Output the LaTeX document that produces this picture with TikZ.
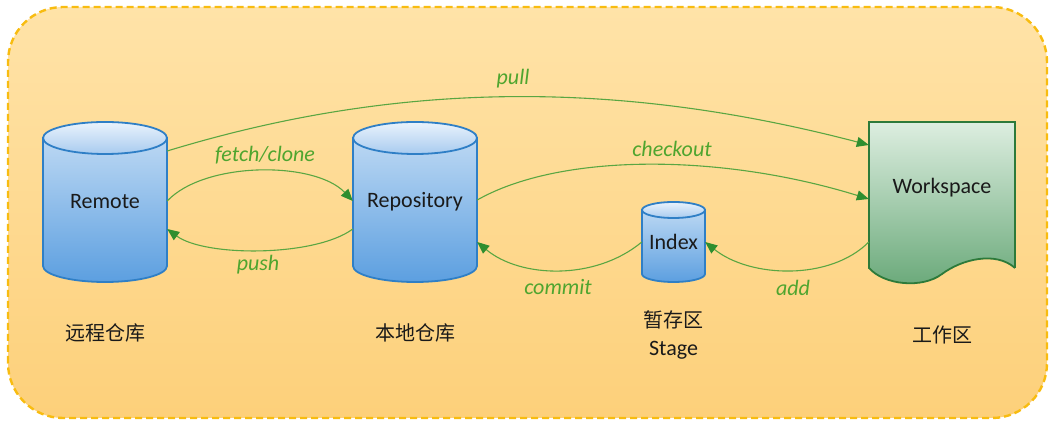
\documentclass[tikz,border=0pt]{standalone}
\usepackage{fontspec}
\setmainfont{Carlito}
\newfontfamily\cjk{Noto Sans CJK SC}
\usetikzlibrary{arrows.meta}
\definecolor{bgtop}{HTML}{FFE3A8}
\definecolor{bgbot}{HTML}{FDD07A}
\definecolor{bgline}{HTML}{F8BC10}
\definecolor{cylline}{HTML}{2F7FC6}
\definecolor{cyltopA}{HTML}{BCD8F3}
\definecolor{cylbotA}{HTML}{5C9FE0}
\definecolor{captop}{HTML}{EAF3FC}
\definecolor{capbot}{HTML}{A8CBEF}
\definecolor{wstop}{HTML}{DDEEE0}
\definecolor{wsbot}{HTML}{68A878}
\definecolor{wsline}{HTML}{2D7A3A}
\definecolor{flowc}{HTML}{5AA642}
\definecolor{arrowc}{HTML}{2F8E2F}
\definecolor{labc}{HTML}{4FA52F}
\definecolor{txt}{HTML}{1A1A1A}
\tikzset{
  outerbox/.style={draw=bgline, line width=2.4pt, dash pattern=on 7pt off 4pt, top color=bgtop, bottom color=bgbot, rounded corners=55pt},
  cylbody/.style={draw=cylline, line width=1.8pt, top color=cyltopA, bottom color=cylbotA},
  cyltop/.style={draw=cylline, line width=1.8pt, top color=captop, bottom color=capbot},
  wsshape/.style={draw=wsline, line width=1.8pt, top color=wstop, bottom color=wsbot},
  holder/.style={inner sep=0pt, draw=none, text=txt, font=\fontsize{22}{26}\selectfont},
  cjklab/.style={inner sep=0pt, text=txt, font=\cjk\fontsize{20}{24}\selectfont},
  enlab/.style={inner sep=0pt, text=txt, font=\fontsize{22}{26}\selectfont},
  flowlab/.style={inner sep=0pt, text=labc, font=\itshape\fontsize{22}{26}\selectfont},
  flow/.style={draw=flowc, line width=1.1pt, -{Triangle[length=12pt,width=10pt,color=arrowc]}}
}
\newcommand\mycyl[5]{%
  \path[cylbody] (#1-#4,#2) -- (#1-#4,#3) arc[start angle=180,end angle=360,x radius=#4,y radius=#5] -- (#1+#4,#2) -- cycle;
  \path[cyltop] (#1,#2) ellipse [x radius=#4,y radius=#5];
}
\begin{document}
\begin{tikzpicture}[x=1pt,y=1pt]
\useasboundingbox (0,0) rectangle (1056,433);
\path[outerbox] (8,15) rectangle (1047,426);

% shapes
\mycyl{105}{295}{167}{62}{16}
\mycyl{415}{295}{167}{62}{16}
\mycyl{673.5}{223}{159}{31.5}{8}
\path[wsshape] (1015,165) -- (1015,311) -- (869,311) -- (869,165)
  .. controls (884,148) and (922,144) .. (942,159)
  .. controls (962,174) and (996,182) .. (1015,165);

% nodes
\node[holder, minimum width=124pt, minimum height=160pt] (remote) at (105,231) {Remote};
\node[holder, minimum width=124pt, minimum height=160pt] (repo) at (415,231) {Repository};
\node[holder, minimum width=63pt, minimum height=80pt] (index) at (673.5,191) {Index};
\node[holder, minimum width=146pt, minimum height=160pt] (ws) at (942,231) {};
\node[enlab] (wstext) at (942,245) {Workspace};

\node[cjklab] (remotecn) at (105,100) {远程仓库};
\node[cjklab] (repocn) at (415,100) {本地仓库};
\node[cjklab] (indexcn) at (673.5,113) {暂存区};
\node[enlab] (stage) at (673.5,83) {Stage};
\node[cjklab] (wscn) at (942,98) {工作区};

% connectors
\draw[flow] ([yshift=51pt]remote.east) .. controls (400,353) and (620,353) .. ([yshift=57pt]ws.west);
\draw[flow] ([yshift=1pt]remote.east) .. controls (205,272) and (315,272) .. ([yshift=1pt]repo.west);
\draw[flow] ([yshift=-27pt]repo.west) .. controls (315,176) and (205,176) .. ([yshift=-27pt]remote.east);
\draw[flow] ([yshift=2pt]repo.east) .. controls (560,280) and (720,280) .. ([yshift=3pt]ws.west);
\draw[flow] (index.west) .. controls (595,152) and (520,155) .. ([yshift=-40pt]repo.east);
\draw[flow] ([yshift=-40pt]ws.west) .. controls (830,152) and (750,155) .. (index.east);

% connector labels
\node[flowlab] (pull) at (513,354) {pull};
\node[flowlab] (fetch) at (265,278) {fetch/clone};
\node[flowlab] (push) at (258,168) {push};
\node[flowlab] (checkout) at (672,284) {checkout};
\node[flowlab] (commit) at (558,146) {commit};
\node[flowlab] (add) at (793,145) {add};
\end{tikzpicture}
\end{document}
